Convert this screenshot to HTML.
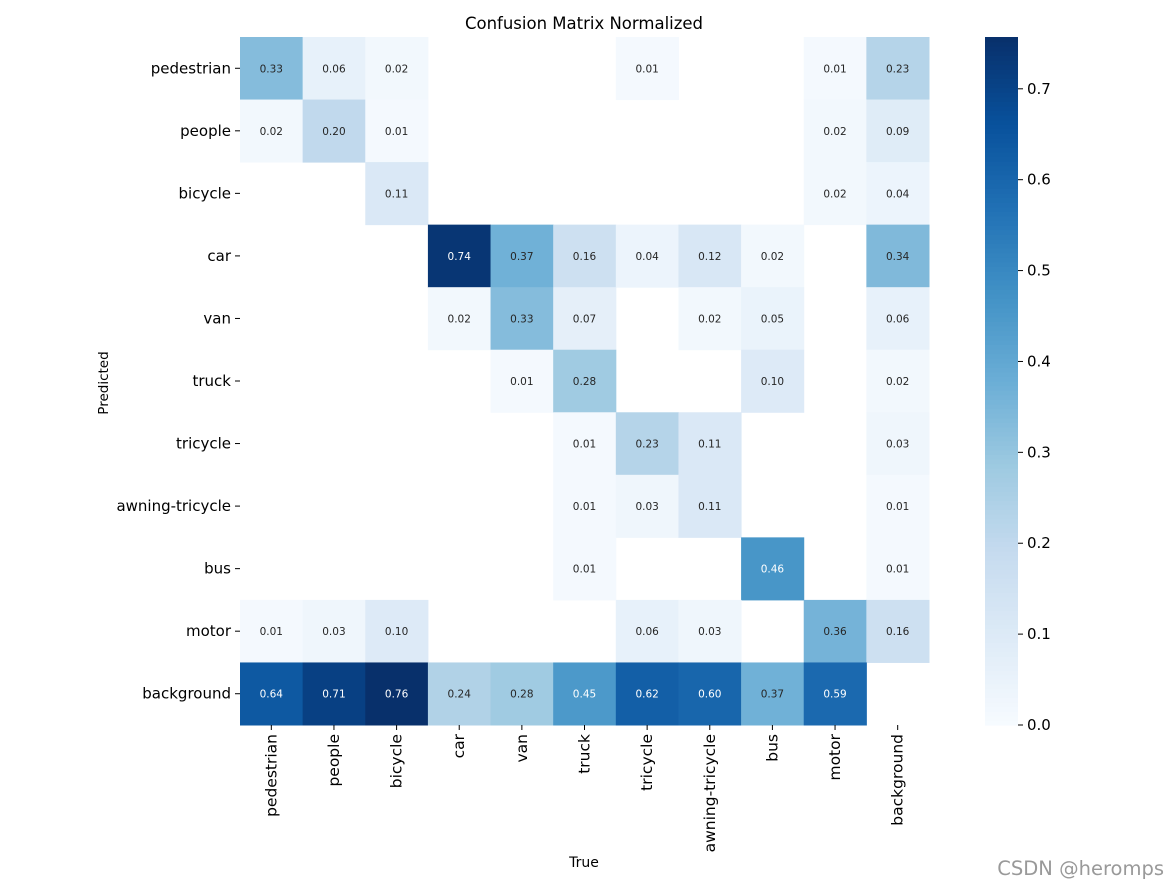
<!DOCTYPE html>
<html><head><meta charset="utf-8"><style>
html,body{margin:0;padding:0;background:#fff;}
svg{display:block;font-family:"DejaVu Sans","Liberation Sans",sans-serif;}
</style></head><body>
<svg id="chart" width="1168" height="888" viewBox="0 0 1168 888" xmlns="http://www.w3.org/2000/svg">
<rect width="1168" height="888" fill="#fff"/>
<text x="584" y="29" text-anchor="middle" font-size="16.5">Confusion Matrix Normalized</text>
<text x="108" y="383" text-anchor="middle" font-size="13.5" transform="rotate(-90 108 383)">Predicted</text>
<text x="584" y="867" text-anchor="middle" font-size="14">True</text>
<g id="cells"></g>
<g id="ylabels"></g>
<g id="xlabels"></g>
<g id="cbar"></g>
<text x="1164" y="875" text-anchor="end" font-size="19.5" fill="#999">CSDN @heromps</text>
</svg>
<script>
const categories = ["pedestrian","people","bicycle","car","van","truck","tricycle","awning-tricycle","bus","motor","background"];
const row0 = [0.33,0.06,0.02,null,null,null,0.01,null,null,0.01,0.23];
const row1 = [0.02,0.20,0.01,null,null,null,null,null,null,0.02,0.09];
const row2 = [null,null,0.11,null,null,null,null,null,null,0.02,0.04];
const row3 = [null,null,null,0.74,0.37,0.16,0.04,0.12,0.02,null,0.34];
const row4 = [null,null,null,0.02,0.33,0.07,null,0.02,0.05,null,0.06];
const row5 = [null,null,null,null,0.01,0.28,null,null,0.10,null,0.02];
const row6 = [null,null,null,null,null,0.01,0.23,0.11,null,null,0.03];
const row7 = [null,null,null,null,null,0.01,0.03,0.11,null,null,0.01];
const row8 = [null,null,null,null,null,0.01,null,null,0.46,null,0.01];
const row9 = [0.01,0.03,0.10,null,null,null,0.06,0.03,null,0.36,0.16];
const row10 = [0.64,0.71,0.76,0.24,0.28,0.45,0.62,0.60,0.37,0.59,null];
const matrix = [row0,row1,row2,row3,row4,row5,row6,row7,row8,row9,row10];
const cbarTicks = [0.0,0.1,0.2,0.3,0.4,0.5,0.6,0.7];
const vmax = 0.757;

const NS="http://www.w3.org/2000/svg";
const X0=240,X1=929,Y0=37,Y1=725;
const cw=(X1-X0)/categories.length, ch=(Y1-Y0)/categories.length;
const xPos=i=>X0+i*cw, yPos=i=>Y0+i*ch;
const stops=["#f7fbff","#deebf7","#c6dbef","#9ecae1","#6baed6","#4292c6","#2171b5","#08519c","#08306b"];
function hex(h){return [1,3,5].map(i=>parseInt(h.substr(i,2),16));}
function color(v){let t=Math.max(0,Math.min(1,v/vmax))*8;let i=Math.min(7,Math.floor(t));let f=t-i;
 const a=hex(stops[i]),b=hex(stops[i+1]);return "rgb("+a.map((c,k)=>Math.round(c+(b[k]-c)*f)).join(",")+")";}
function el(tag,attrs,parent){const e=document.createElementNS(NS,tag);for(const k in attrs)e.setAttribute(k,attrs[k]);parent.appendChild(e);return e;}
const cells=document.getElementById("cells");
matrix.forEach((row,r)=>row.forEach((v,c)=>{
 if(v===null)return;
 const rc=el("rect",{x:xPos(c),y:yPos(r),width:cw+0.5,height:ch+0.5,fill:color(v)},cells);
 
 
 const t=el("text",{x:xPos(c)+cw/2,y:yPos(r)+ch/2+4,"text-anchor":"middle","font-size":"10.5",fill:v>vmax*0.5?"#fff":"#262626"},cells);
 t.textContent=v.toFixed(2);
 
 
}));
const yl=document.getElementById("ylabels");
categories.forEach((n,i)=>{
 const y=yPos(i)+ch/2;
 el("line",{x1:X0-5,x2:X0,y1:y,y2:y,stroke:"#000","stroke-width":1},yl);
 const t=el("text",{x:X0-9,y:y+5,"text-anchor":"end","font-size":"15"},yl);
 t.textContent=n;
 
 
});
const xl=document.getElementById("xlabels");
categories.forEach((n,i)=>{
 const x=xPos(i)+cw/2;
 el("line",{x1:x,x2:x,y1:Y1,y2:Y1+5,stroke:"#000","stroke-width":1},xl);
 const t=el("text",{x:x+5,y:Y1+9,"text-anchor":"end","font-size":"15.5",transform:`rotate(-90 ${x+5} ${Y1+9})`},xl);
 t.textContent=n;
 
 
});
const cb=document.getElementById("cbar");
const CX=985,CW=33;
const cy=v=>Y1-(v/vmax)*(Y1-Y0);
const N=150;
for(let k=0;k<N;k++){const v0=vmax*k/N,v1=vmax*(k+1)/N;
 el("rect",{x:CX,y:cy(v1),width:CW,height:cy(v0)-cy(v1)+0.6,fill:color((v0+v1)/2)},cb);}
cbarTicks.forEach(v=>{
 const y=cy(v);
 el("line",{x1:CX+CW,x2:CX+CW+5,y1:y,y2:y,stroke:"#000"},cb);
 const t=el("text",{x:CX+CW+9,y:y+5,"font-size":"15"},cb);
 t.textContent=v.toFixed(1);
 
 
});
</script>
</body></html>
